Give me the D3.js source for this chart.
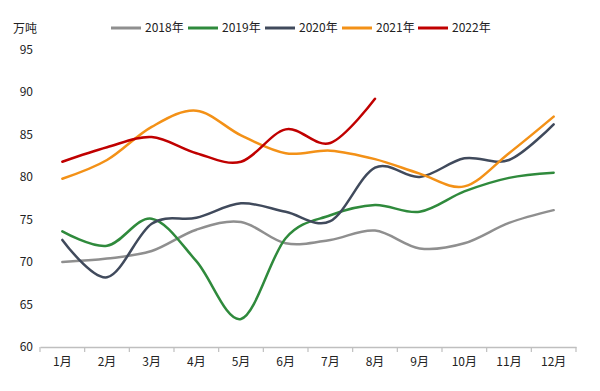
<!DOCTYPE html>
<html>
<head>
<meta charset="utf-8">
<script src="https://cdn.jsdelivr.net/npm/d3@7"></script>
<style>
  body { margin: 0; background: #fff; }
  text { font-family: "Noto Sans CJK SC", "Noto Sans", sans-serif; }
</style>
</head>
<body>
<div id="chart"></div>
<script>
const months = ["1月","2月","3月","4月","5月","6月","7月","8月","9月","10月","11月","12月"];
const yTicks = [60, 65, 70, 75, 80, 85, 90, 95];
const seriesNames = ["2018年", "2019年", "2020年", "2021年", "2022年"];
const seriesColors = ["#8f8f8f", "#2f8a3c", "#404a5c", "#f39117", "#c00000"];

const v2018 = [70.0, 70.4, 71.3, 73.8, 74.7, 72.2, 72.6, 73.7, 71.6, 72.2, 74.6, 76.1];
const v2019 = [73.6, 71.9, 75.1, 70.1, 63.3, 72.8, 75.5, 76.7, 75.9, 78.3, 79.9, 80.5];
const v2020 = [72.6, 68.2, 74.5, 75.2, 76.9, 75.9, 74.8, 81.1, 80.0, 82.2, 82.0, 86.2];
const v2021 = [79.8, 82.0, 85.9, 87.8, 84.9, 82.8, 83.1, 82.1, 80.4, 78.9, 82.8, 87.1];
const v2022 = [81.8, 83.5, 84.7, 82.8, 81.8, 85.6, 84.0, 89.2];

const allSeries = [v2018, v2019, v2020, v2021, v2022];

const width = 600, height = 391;
const margin = {top: 49.5, right: 24, bottom: 44, left: 40};

const svg = d3.select("#chart")
  .append("svg")
  .attr("width", width)
  .attr("height", height);

const x = d3.scaleBand()
  .domain(months)
  .range([margin.left, width - margin.right]);

const y = d3.scaleLinear()
  .domain([60, 95])
  .range([height - margin.bottom, margin.top]);

// y labels (no axis line)
svg.append("g")
  .selectAll("text")
  .data(yTicks)
  .enter()
  .append("text")
  .attr("x", 33)
  .attr("y", d => y(d))
  .attr("dy", "0.35em")
  .attr("text-anchor", "end")
  .style("font-size", "12px")
  .style("fill", "#222")
  .text(d => d);

svg.append("text")
  .attr("x", 13)
  .attr("y", 29)
  .attr("dy", "0.35em")
  .style("font-size", "12px")
  .style("fill", "#222")
  .text("万吨");

// x axis
const xAxis = svg.append("g")
  .attr("transform", `translate(0,${y(60)})`)
  .call(d3.axisBottom(x).tickSize(0).tickPadding(10));
xAxis.select(".domain").attr("stroke", "#bfbfbf").attr("stroke-width", 1.5);
xAxis.selectAll("text").style("font-size", "12px").style("fill", "#222")
  .style("font-family", "'Noto Sans CJK SC', sans-serif");

const bounds = months.map(m => x(m)).concat([x.range()[1]]);
xAxis.selectAll(".sep")
  .data(bounds)
  .enter()
  .append("line")
  .attr("x1", d => d).attr("x2", d => d)
  .attr("y1", 0).attr("y2", 5)
  .attr("stroke", "#bfbfbf")
  .attr("stroke-width", 1.2);

// lines
const line = d3.line()
  .x((d, i) => x(months[i]) + x.bandwidth() / 2)
  .y(d => y(d))
  .curve(d3.curveCatmullRom.alpha(0));

svg.append("g")
  .selectAll("path")
  .data(allSeries)
  .enter()
  .append("path")
  .attr("d", d => line(d))
  .attr("fill", "none")
  .attr("stroke", (d, i) => seriesColors[i])
  .attr("stroke-width", 2.5)
  .attr("stroke-linecap", "round");

// legend
const legendX = [111, 188, 265, 342, 418];
const legend = svg.append("g")
  .selectAll("g")
  .data(seriesNames)
  .enter()
  .append("g")
  .attr("transform", (d, i) => `translate(${legendX[i]},28)`);

legend.append("line")
  .attr("x1", 0).attr("x2", 30)
  .attr("stroke", (d, i) => seriesColors[i])
  .attr("stroke-width", 3);

legend.append("text")
  .attr("x", 34)
  .attr("dy", "0.35em")
  .style("font-size", "12px")
  .style("fill", "#222")
  .text(d => d);
</script>
</body>
</html>
